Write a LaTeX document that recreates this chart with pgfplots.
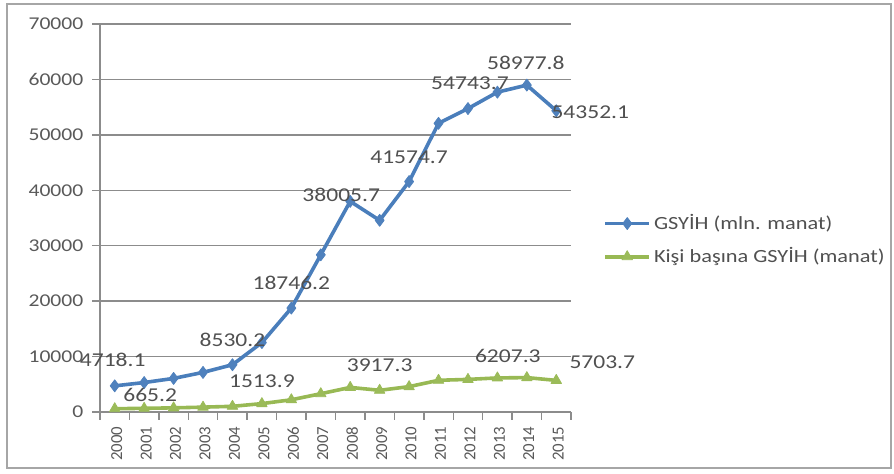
\documentclass[border=0pt]{standalone}
\usepackage{pgfplots}
\pgfplotsset{compat=1.18}
\usepackage{pgfplotstable}
\usepackage{fontspec}
\setmainfont{Carlito}[FakeStretch=1.2]
\newfontfamily\xfont{Carlito}
\definecolor{gblue}{HTML}{4A7EBB}
\definecolor{mblue}{HTML}{4F81BD}
\definecolor{ggreen}{HTML}{98B954}
\definecolor{mgreen}{HTML}{9BBB59}
\definecolor{tickgray}{HTML}{595959}
\definecolor{labgray}{HTML}{505050}
\definecolor{gridgray}{HTML}{8C8C8C}
\definecolor{axisgray}{HTML}{8C8C8C}
\definecolor{bordergray}{HTML}{A6A6A6}

\pgfplotstableread{
x y
0 4718.1
1 5315.6
2 6062.5
3 7146.5
4 8530.2
5 12522.5
6 18746.2
7 28360.5
8 38005.7
9 34578.7
10 41574.7
11 52082.0
12 54743.7
13 57708.2
14 58977.8
15 54352.1
}\gdp
\pgfplotstableread{
x y
0 592.0
1 665.2
2 750.0
3 876.0
4 1026.0
5 1513.9
6 2206.0
7 3300.0
8 4436.0
9 3917.3
10 4580.0
11 5720.0
12 5884.0
13 6150.0
14 6207.3
15 5703.7
}\pc
\pgfplotstableread{
x y lab dx dy
0 4718.1 4718.1 -1 13
4 8530.2 8530.2 0 12.5
6 18746.2 18746.2 0 12.5
8 38005.7 38005.7 -4.5 3
10 41574.7 41574.7 0 12
12 54743.7 54743.7 1 12.5
14 58977.8 58977.8 -0.5 11
15 54352.1 54352.1 17 -0.5
}\gdplab
\pgfplotstableread{
x y lab dx dy
1 665.2 665.2 3 6.5
5 1513.9 1513.9 0 11
9 3917.3 3917.3 0 12.5
14 6207.3 6207.3 -9.5 11
15 5703.7 5703.7 23 9
}\pclab

\begin{document}
\begin{tikzpicture}
\path[use as bounding box] (0,0) rectangle (447pt,236.5pt);
\draw[bordergray, line width=0.8pt] (3.5pt,2.5pt) rectangle (445.5pt,234.5pt);
\begin{axis}[
  at={(50pt,30.5pt)}, anchor=south west,
  scale only axis, width=235.5pt, height=194pt,
  xmin=-0.5, xmax=15.5, ymin=0, ymax=70000,
  xtick={-0.5,0.5,...,15.5},
  x tick label as interval,
  xticklabels={2000,2001,2002,2003,2004,2005,2006,2007,2008,2009,2010,2011,2012,2013,2014,2015},
  ytick={0,10000,...,70000},
  scaled y ticks=false,
  axis x line*=bottom,
  axis y line*=left,
  axis line style={-, draw=axisgray, line width=0.7pt},
  tick align=outside,
  major tick length=3.8pt,
  xtick style={draw=axisgray, line width=0.7pt},
  ytick style={draw=gridgray, line width=0.7pt},
  /pgf/number format/assume math mode=true,
  /pgf/number format/1000 sep={},
  yticklabel style={font=\fontsize{9}{10}\selectfont, text=tickgray, anchor=east, xshift=-1pt},
  xticklabel style={font=\xfont\fontsize{8.4}{9}\selectfont, text=tickgray, rotate=90, anchor=east, yshift=-1pt},
  clip=false,
  legend image code/.code={\draw[mark repeat=2,mark phase=2,#1] plot coordinates {(0pt,0pt) (11pt,0pt) (22pt,0pt)};},
  legend style={at={(1.068,0.443)}, anchor=west, draw=none, fill=none, inner sep=0pt,
    font=\fontsize{9.3}{10}\selectfont, text=labgray, row sep=4.5pt,
    nodes={inner sep=1.5pt}},
  legend cell align=left,
]
\pgfplotsinvokeforeach{10000,20000,30000,40000,50000,60000,70000}{
  \addplot[forget plot, gridgray, line width=0.7pt, mark=none] coordinates {(-0.5,#1) (15.5,#1)};
}
\addplot[gblue, line width=1.8pt, line join=round, mark=diamond*, mark size=3pt,
  mark options={fill=mblue, draw=mblue, line width=0.4pt}] table[x=x,y=y] {\gdp};
\addlegendentry{GSYİH (mln. manat)}
\addplot[ggreen, line width=1.8pt, line join=round, mark=triangle*, mark size=3pt,
  mark options={fill=mgreen, draw=mgreen, line width=0.4pt}] table[x=x,y=y] {\pc};
\addlegendentry{Kişi başına GSYİH (manat)}
\addplot[forget plot, draw=none, mark=none, nodes near coords, point meta=explicit symbolic,
  visualization depends on={\thisrow{dx}\as\ldx},
  visualization depends on={\thisrow{dy}\as\ldy},
  every node near coord/.append style={anchor=center, xshift=\ldx pt, yshift=\ldy pt,
    font=\fontsize{9.8}{10}\selectfont, text=labgray, inner sep=0pt}]
  table[x=x, y=y, meta=lab] {\gdplab};
\addplot[forget plot, draw=none, mark=none, nodes near coords, point meta=explicit symbolic,
  visualization depends on={\thisrow{dx}\as\ldx},
  visualization depends on={\thisrow{dy}\as\ldy},
  every node near coord/.append style={anchor=center, xshift=\ldx pt, yshift=\ldy pt,
    font=\fontsize{9.8}{10}\selectfont, text=labgray, inner sep=0pt}]
  table[x=x, y=y, meta=lab] {\pclab};
\end{axis}
\end{tikzpicture}
\end{document}
